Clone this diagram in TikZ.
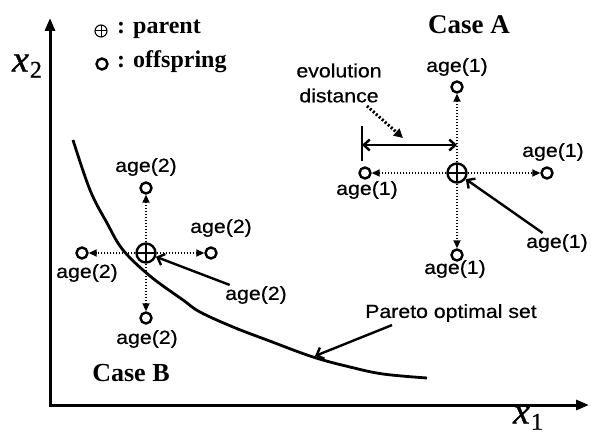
\documentclass[tikz,border=0pt]{standalone}
\usepackage{fontspec}
\setmainfont{Liberation Serif}
\newfontfamily\agefont[FakeStretch=1.12,FakeBold=0.6]{Liberation Sans}
\newfontfamily\axfont[FakeBold=0.8]{Liberation Serif}
\usetikzlibrary{arrows.meta}
\begin{document}
\begin{tikzpicture}[x=1pt,y=-1pt,
  off/.style={circle,draw,line width=2.4pt,minimum size=11pt,inner sep=0pt},
  parnode/.style={circle,draw,line width=2.4pt,minimum size=19pt,inner sep=0pt,
    path picture={\draw[line width=2pt] (path picture bounding box.north) -- (path picture bounding box.south)
      (path picture bounding box.west) -- (path picture bounding box.east);}},
  age/.style={font=\agefont\fontsize{19}{22}\selectfont, inner sep=1pt},
  boldlab/.style={font=\bfseries\fontsize{27}{30}\selectfont, inner sep=0pt},
  dotarr/.style={line width=1.8pt, dash pattern=on 1.5pt off 1.5pt, -{Triangle[length=8pt,width=7pt]}},
  lead/.style={line width=2.4pt, -{Straight Barb[length=6pt,width=12pt]}},
  axis/.style={line width=3pt, -{Triangle[length=13pt,width=10pt]}},
]
\useasboundingbox (0,0) rectangle (591,441);
% axes
\coordinate (orig) at (50,405);
\coordinate (ytop) at (50,18);
\coordinate (xend) at (589,405);
\draw[axis] (orig) -- (ytop);
\draw[axis] ([xshift=-1.5pt]orig) -- (xend);
\node[font=\axfont\itshape\fontsize{38}{40}\selectfont, inner sep=0pt] (xtwo) at (27,66) {x\kern1pt\raisebox{-6pt}{\upshape\fontsize{24}{26}\selectfont 2}};
\node[font=\axfont\itshape\fontsize{38}{40}\selectfont, inner sep=0pt] (xone) at (528,418) {x\kern1pt\raisebox{-6pt}{\upshape\fontsize{24}{26}\selectfont 1}};

% legend
\node[circle,draw,line width=1.1pt,minimum size=12pt,inner sep=0pt,
  path picture={\draw[line width=1pt] (path picture bounding box.north) -- (path picture bounding box.south)
      (path picture bounding box.west) -- (path picture bounding box.east);}] (legp) at (101,31) {};
\node[off, minimum size=11pt] (lego) at (102,64) {};
\node[anchor=west, font=\bfseries\fontsize{24}{26}\selectfont, inner sep=0pt] (legpt) at (117,29) {: parent};
\node[anchor=west, font=\bfseries\fontsize{24}{26}\selectfont, inner sep=0pt] (legot) at (117,62) {: offspring};

% Pareto curve
\draw[line width=2.8pt] plot[smooth, tension=0.6] coordinates {(73,140) (90,190) (107,223) (123,250) (150,276) (183,300) (200,312) (233,327) (267,340) (313,357) (350,367) (383,374) (427,378)};
\coordinate (ppt) at (315,356);
\node[age] (pareto) at (451,313) {Pareto optimal set};
\draw[lead] ([xshift=28pt,yshift=-2pt]pareto.south west) -- (ppt);

% Case A
\node[boldlab] (caseA) at (469,25) {Case A};
\node[parnode] (pA) at (457,173) {};
\node[off] (oAu) at (457,87) {};
\node[off] (oAd) at (457,255) {};
\node[off] (oAl) at (365,173) {};
\node[off] (oAr) at (547,173) {};
\draw[dotarr] (pA) -- (oAu);
\draw[dotarr] (pA) -- (oAd);
\draw[dotarr] (pA) -- (oAl);
\draw[dotarr] (pA) -- (oAr);
\node[age] (lAu) at (457,67) {age(1)};
\node[age] (lAl) at (367,190) {age(1)};
\node[age] (lAr) at (553,152) {age(1)};
\node[age] (lAd) at (455,269) {age(1)};
\node[age] (lAp) at (557,243) {age(1)};
\draw[lead] (lAp) -- (pA);
% evolution distance
\node[age, align=center, font=\agefont\fontsize{19}{25}\selectfont] (evo) at (339,83) {evolution\\distance};
\coordinate (evs) at (367,106);
\coordinate (eve) at (403,138);
\draw[line width=3pt, dash pattern=on 2pt off 2pt, -{Triangle[length=9pt,width=9pt]}] (evs) -- (eve);
\coordinate (tkt) at (362,126);
\coordinate (tkb) at (362,161);
\draw[line width=1.8pt] (tkt) -- (tkb);
\coordinate (dl) at (362,145);
\coordinate (dr) at (457,145);
\draw[line width=2.4pt, {Straight Barb[length=6pt,width=11pt]}-{Straight Barb[length=6pt,width=11pt]}] (dl) -- (dr);

% Case B
\node[boldlab, font=\bfseries\fontsize{26}{28}\selectfont] (caseB) at (131,373) {Case B};
\node[parnode] (pB) at (146,253) {};
\node[off] (oBu) at (146,188) {};
\node[off] (oBd) at (146,318) {};
\node[off] (oBl) at (82,253) {};
\node[off] (oBr) at (211,253) {};
\draw[dotarr] (pB) -- (oBu);
\draw[dotarr] (pB) -- (oBd);
\draw[dotarr] (pB) -- (oBl);
\draw[dotarr] (pB) -- (oBr);
\node[age] (lBu) at (146,167) {age(2)};
\node[age] (lBl) at (87,273) {age(2)};
\node[age] (lBr) at (221,228) {age(2)};
\node[age] (lBd) at (147,339) {age(2)};
\node[age] (lBp) at (256,295) {age(2)};
\draw[lead] (lBp) -- (pB);
\end{tikzpicture}
\end{document}
